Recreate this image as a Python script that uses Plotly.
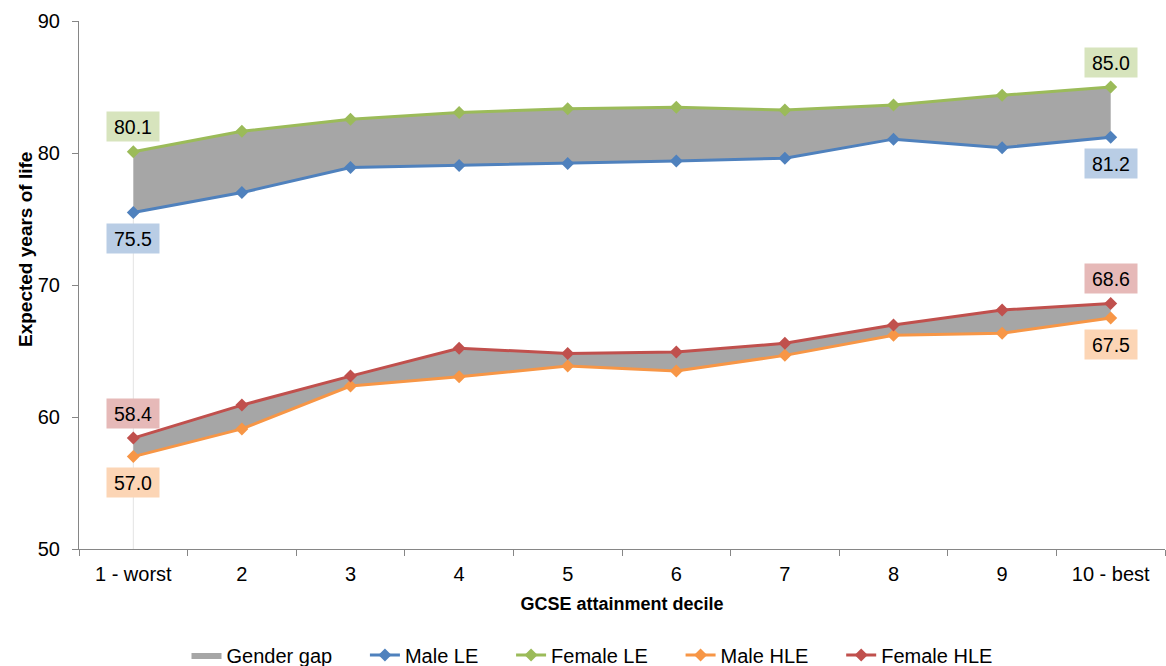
import plotly.graph_objects as go

# GCSE attainment deciles
deciles = ["1 - worst", "2", "3", "4", "5", "6", "7", "8", "9", "10 - best"]
x_pos = list(range(1, 11))

# Life expectancy (LE) and healthy life expectancy (HLE), years
male_le = [75.5, 77.0, 78.9, 79.05, 79.2, 79.4, 79.6, 81.05, 80.4, 81.2]
female_le = [80.1, 81.65, 82.55, 83.07, 83.36, 83.46, 83.25, 83.64, 84.38, 85.0]
male_hle = [57.0, 59.1, 62.35, 63.05, 63.86, 63.48, 64.67, 66.2, 66.35, 67.5]
female_hle = [58.4, 60.9, 63.1, 65.2, 64.82, 64.92, 65.58, 66.97, 68.1, 68.6]

y_ticks = [50, 60, 70, 80, 90]

FONT = "Liberation Sans, Arial, sans-serif"
GAP_GREY = "#A6A6A6"
C_MALE_LE = "#4F81BD"
C_FEMALE_LE = "#9BBB59"
C_MALE_HLE = "#F79646"
C_FEMALE_HLE = "#C0504D"

MARGIN_L, MARGIN_R, MARGIN_T, MARGIN_B = 79, 1, 21, 117
PLOT_W = 1166 - MARGIN_L - MARGIN_R
PLOT_H = 666 - MARGIN_T - MARGIN_B
PAD = "\u00a0" * 5  # extra spacing after each legend entry

fig = go.Figure()

# faint drop line at the first decile from the axis floor to male LE
fig.add_trace(go.Scatter(
    x=[x_pos[0], x_pos[0]], y=[y_ticks[0], male_le[0]], mode="lines",
    line=dict(color="#E3E3E3", width=1), showlegend=False, hoverinfo="skip"))

# shaded gender gap bands (male lower edge, female upper edge)
for lo, hi, show in [(male_le, female_le, True), (male_hle, female_hle, False)]:
    fig.add_trace(go.Scatter(
        x=x_pos, y=lo, mode="lines", line=dict(width=0, color=GAP_GREY),
        showlegend=False, hoverinfo="skip"))
    fig.add_trace(go.Scatter(
        x=x_pos, y=hi, mode="lines", line=dict(width=0, color=GAP_GREY),
        fill="tonexty", fillcolor=GAP_GREY, name="Gender gap" + PAD,
        legendgroup="gap", showlegend=show, hoverinfo="skip"))

series = [
    ("Male LE", male_le, C_MALE_LE),
    ("Female LE", female_le, C_FEMALE_LE),
    ("Male HLE", male_hle, C_MALE_HLE),
    ("Female HLE", female_hle, C_FEMALE_HLE),
]
for name, vals, col in series:
    fig.add_trace(go.Scatter(
        x=x_pos, y=vals, mode="lines+markers",
        name=name + (PAD if name != "Female HLE" else ""),
        line=dict(color=col, width=3),
        marker=dict(symbol="diamond", size=10, color=col)))

# end-point value labels
label_specs = [
    (female_le, "#D7E4BD", 25),
    (male_le, "#B9CDE5", -26),
    (female_hle, "#E6B9B8", 25),
    (male_hle, "#FCD5B5", -26),
]
for vals, bg, shift in label_specs:
    for idx in (0, len(vals) - 1):
        fig.add_annotation(
            x=x_pos[idx], y=vals[idx], text=f"{vals[idx]:.1f}",
            showarrow=False, yshift=shift, bgcolor=bg,
            width=48, height=25, borderpad=2,
            font=dict(family=FONT, size=19.5, color="#000000"))

# rotated y-axis title
fig.add_annotation(
    xref="paper", yref="paper", x=(25 - MARGIN_L) / PLOT_W,
    y=(549 - 250) / PLOT_H, text="<b>Expected years of life</b>",
    textangle=-90, showarrow=False, xanchor="center", yanchor="middle",
    font=dict(family=FONT, size=19, color="#000000"))

fig.update_layout(
    width=1166, height=666,
    margin=dict(l=MARGIN_L, r=MARGIN_R, t=MARGIN_T, b=MARGIN_B, autoexpand=False),
    paper_bgcolor="white", plot_bgcolor="white",
    font=dict(family=FONT, size=20, color="#000000"),
    showlegend=True,
    legend=dict(orientation="h", x=(592 - MARGIN_L) / PLOT_W, xanchor="center",
                y=-(655 - 549) / PLOT_H, yanchor="middle",
                font=dict(family=FONT, size=20), itemwidth=30),
    xaxis=dict(
        range=[0.5, 10.5], tickmode="array", tickvals=x_pos, ticktext=deciles,
        ticks="", showgrid=False, zeroline=False, automargin=False,
        showline=True, linecolor="#868686", linewidth=1,
        minor=dict(tickmode="array", tickvals=[v + 0.5 for v in [0] + x_pos],
                   ticks="outside", ticklen=6, tickcolor="#868686", showgrid=False),
        tickfont=dict(size=20), ticklabelstandoff=7,
        title=dict(text="<b>GCSE attainment decile</b>", font=dict(size=18),
                   standoff=13)),
    yaxis=dict(
        range=[50, 90], tickmode="array", tickvals=y_ticks,
        ticks="outside", ticklen=6, tickcolor="#868686",
        showgrid=False, zeroline=False, automargin=False,
        showline=True, linecolor="#868686", linewidth=1,
        tickfont=dict(size=20), ticklabelstandoff=8),
)

fig.write_html("out.html")
